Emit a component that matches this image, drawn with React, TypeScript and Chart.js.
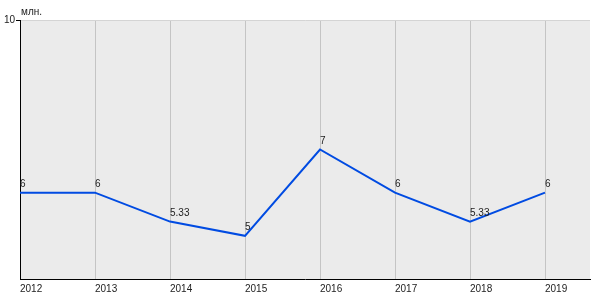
import React, { useEffect, useRef } from "react";
import { Chart, registerables } from "chart.js";

Chart.register(...registerables);

const years = [2012, 2013, 2014, 2015, 2016, 2017, 2018, 2019];
const values = [6, 6, 5.33, 5, 7, 6, 5.33, 6];
const valueLabels = ["6", "6", "5.33", "5", "7", "6", "5.33", "6"];
const yTicks = [10];
const unitLabel = "млн.";

const FONT = "'Liberation Sans', Arial, sans-serif";

export default function App() {
  const ref = useRef<HTMLCanvasElement | null>(null);

  useEffect(() => {
    if (!ref.current) return;
    const bgPlugin = {
      id: "bgPlugin",
      beforeDraw(chart: any) {
        const { ctx, chartArea } = chart;
        ctx.save();
        ctx.fillStyle = "#ebebeb";
        ctx.fillRect(chartArea.left, chartArea.top, chartArea.right - chartArea.left, chartArea.bottom - chartArea.top);
        ctx.restore();
      },
      afterDraw(chart: any) {
        const { ctx, chartArea } = chart;
        ctx.save();
        ctx.font = "10px " + FONT;
        ctx.fillStyle = "#222";
        ctx.textAlign = "left";
        ctx.textBaseline = "middle";
        ctx.fillText(unitLabel, chartArea.left + 1, chartArea.top - 8);
        ctx.restore();
      },
      afterDatasetsDraw(chart: any) {
        const { ctx } = chart;
        const meta = chart.getDatasetMeta(0);
        ctx.save();
        ctx.font = "10px " + FONT;
        ctx.fillStyle = "#222";
        ctx.textAlign = "left";
        ctx.textBaseline = "alphabetic";
        meta.data.forEach((pt: any, i: number) => {
          ctx.fillText(valueLabels[i], pt.x, pt.y - 6);
        });
        ctx.restore();
      },
    };

    const chart = new Chart(ref.current, {
      type: "line",
      data: {
        datasets: [
          {
            data: years.map((y, i) => ({ x: y, y: values[i] })),
            borderColor: "#004be2",
            borderWidth: 2,
            pointRadius: 0,
            tension: 0,
            fill: false,
          },
        ],
      },
      options: {
        animation: false,
        responsive: false,
        layout: { padding: { top: 20, right: 10, left: 0, bottom: 0 } },
        plugins: { legend: { display: false }, tooltip: { enabled: false }, title: { display: false } },
        scales: {
          x: {
            type: "linear",
            min: 2012,
            max: 2019.6,
            afterBuildTicks(scale: any) {
              scale.ticks = years.map((v) => ({ value: v }));
            },
            afterFit(scale: any) {
              scale.height = 21;
            },
            grid: { color: "#c4c4c4", drawTicks: false, tickLength: 0 },
            border: { color: "#000", width: 1 },
            ticks: {
              align: "start",
              maxRotation: 0,
              autoSkip: false,
              padding: 4,
              color: "#222",
              font: { size: 10, family: FONT },
              callback: (v: any) => String(v),
            },
          },
          y: {
            min: 4,
            max: 10,
            afterBuildTicks(scale: any) {
              scale.ticks = yTicks.map((v) => ({ value: v }));
            },
            afterFit(scale: any) {
              scale.width = 20;
            },
            grid: { color: "#d4d4d4", tickColor: "#000", tickLength: 4, drawTicks: true },
            border: { color: "#000", width: 1 },
            ticks: {
              padding: 1,
              color: "#222",
              font: { size: 10, family: FONT },
              callback: (v: any) => String(v),
            },
          },
        },
      },
      plugins: [bgPlugin],
    });
    return () => chart.destroy();
  }, []);

  return (
    <div style={{ position: "fixed", left: 0, top: 0, width: 600, height: 300, background: "#fff" }}>
      <canvas ref={ref} width={600} height={300} />
    </div>
  );
}
